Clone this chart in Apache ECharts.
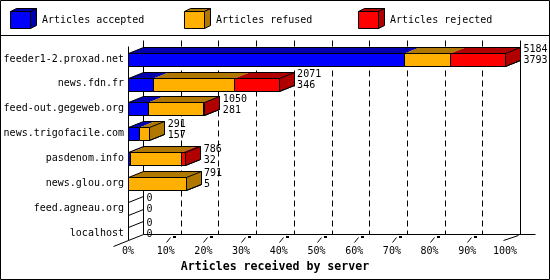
<!DOCTYPE html>
<html>
<head>
<meta charset="utf-8">
<script src="https://cdn.jsdelivr.net/npm/echarts@6/dist/echarts.min.js"></script>
<style>html,body{margin:0;padding:0;background:#fff}#c{width:550px;height:280px}</style>
</head>
<body>
<div id="c"></div>
<script>
const categories = ['feeder1-2.proxad.net','news.fdn.fr','feed-out.gegeweb.org','news.trigofacile.com','pasdenom.info','news.glou.org','feed.agneau.org','localhost'];
const accepted = [3793, 346, 281, 157, 32, 5, 0, 0];
const refused  = [639, 1112, 752, 134, 703, 786, 0, 0];
const rejected = [752, 613, 17, 0, 51, 0, 0, 0];
const seriesNames = ['Articles accepted','Articles refused','Articles rejected'];
const frontColors = ['#0000ff','#ffb000','#ff0000'];
const darkColors  = ['#0000b0','#b07800','#b00000'];
const axisTitle = 'Articles received by server';

const MONO = '"DejaVu Sans Mono", "Liberation Mono", monospace';
const DX = 15, DY = 6;
const totals = accepted.map((a,i)=>a+refused[i]+rejected[i]);
const maxTotal = Math.max(...totals);
const pct = v => v / maxTotal * 100;
const snap = v => Math.round(v) + 0.5;

const layers = [accepted, refused, rejected];
function segData(k){
  return categories.map((c,i)=>{
    let s = 0; for (let j=0;j<k;j++) s += layers[j][i];
    const e = s + layers[k][i];
    let lastK = -1; for (let j=0;j<3;j++) if (layers[j][i] > 0) lastK = j;
    return [i, pct(s), pct(e), lastK === k ? 1 : 0];
  });
}
function barBox(api, i){
  const cy = api.coord([0, i])[1];
  return {t: snap(cy - 6.3), b: snap(cy + 6.7), cy: cy};
}
function segRender(k){
  return function(params, api){
    const i = api.value(0), s = api.value(1), e = api.value(2), last = api.value(3);
    if (e - s <= 0) return null;
    const {t, b} = barBox(api, i);
    const x0 = snap(api.coord([s, i])[0]), x1 = snap(api.coord([e, i])[0]);
    const ch = [];
    ch.push({type:'polygon', shape:{points:[[x0,t],[x1,t],[x1+DX,t-DY],[x0+DX,t-DY]]}, style:{fill:darkColors[k], stroke:null}});
    if (last) ch.push({type:'polygon', shape:{points:[[x1,t],[x1+DX,t-DY],[x1+DX,b-DY],[x1,b]]}, style:{fill:darkColors[k], stroke:'#000', lineWidth:1}});
    ch.push({type:'polygon', shape:{points:[[x0,t],[x1,t],[x1,b],[x0,b]]}, style:{fill:frontColors[k], stroke:'#000', lineWidth:1}});
    return {type:'group', children:ch};
  };
}
function outlineRender(params, api){
  const i = api.value(0), tot = api.value(1), acc = api.value(2), count = api.value(3);
  const {t, b, cy} = barBox(api, i);
  const x0 = snap(api.coord([0, i])[0]);
  const xe = snap(api.coord([tot, i])[0]);
  const ch = [];
  if (tot > 0) {
    ch.push({type:'polyline', shape:{points:[[x0,t],[x0+DX,t-DY],[xe+DX,t-DY],[xe+DX,b-DY],[xe,b]]}, style:{fill:null, stroke:'#000', lineWidth:1}});
  } else {
    ch.push({type:'line', shape:{x1:x0,y1:t,x2:x0+DX,y2:t-DY}, style:{stroke:'#000', lineWidth:1}});
    ch.push({type:'line', shape:{x1:x0,y1:b,x2:x0+DX,y2:b-DY}, style:{stroke:'#000', lineWidth:1}});
  }
  const lx = api.coord([tot, i])[0] + 18.5;
  ch.push({type:'text', style:{x:lx, y:cy-9.5, text:String(count), font:'10px '+MONO, fill:'#000', align:'left', verticalAlign:'middle'}});
  ch.push({type:'text', style:{x:lx, y:cy+1.5, text:String(acc), font:'10px '+MONO, fill:'#000', align:'left', verticalAlign:'middle'}});
  return {type:'group', children:ch};
}
function frameRender(params, api){
  const n = categories.length;
  const ft = Math.round(api.coord([0,0])[1] - 13) + 0.5;
  const fb = Math.round(api.coord([0,n-1])[1] + 7) + 0.5;
  const xl = snap(api.coord([0,0])[0]), xr = snap(api.coord([100,0])[0]);
  const bt = ft - DY, bb = fb - DY;
  const ch = [];
  for (let k=10;k<100;k+=10){
    const x = snap(api.coord([k,0])[0]) + DX;
    ch.push({type:'line', shape:{x1:x,y1:bt,x2:x,y2:bb}, style:{stroke:'#000', lineWidth:1, lineDash:[6,4]}});
    const xf = snap(api.coord([k,0])[0]);
    ch.push({type:'line', shape:{x1:xf,y1:fb+2,x2:xf+4,y2:fb-3}, style:{stroke:'#000', lineWidth:1}});
    ch.push({type:'rect', shape:{x:xf+6.5,y:fb-4.5,width:3,height:2}, style:{fill:'#000'}});
  }
  ch.push({type:'line', shape:{x1:xl,y1:ft,x2:xl,y2:fb}, style:{stroke:'#000', lineWidth:1}});
  ch.push({type:'line', shape:{x1:xl+DX,y1:bt,x2:xl+DX,y2:bb}, style:{stroke:'#000', lineWidth:1}});
  ch.push({type:'line', shape:{x1:xr+DX,y1:bt,x2:xr+DX,y2:bb}, style:{stroke:'#000', lineWidth:1}});
  ch.push({type:'line', shape:{x1:xl+DX,y1:bb,x2:xr+DX+15,y2:bb}, style:{stroke:'#000', lineWidth:1}});
  ch.push({type:'line', shape:{x1:xl-15,y1:fb+6,x2:xl,y2:fb}, style:{stroke:'#000', lineWidth:1}});
  ch.push({type:'line', shape:{x1:xr-2,y1:fb,x2:xr+DX-2,y2:bb+1}, style:{stroke:'#000', lineWidth:1}});
  return {type:'group', children:ch};
}

const legendX = [10, 184, 358];
const graphics = [
  {type:'rect', shape:{x:0.5,y:0.5,width:549,height:279}, style:{fill:null, stroke:'#000', lineWidth:1}, z:100},
  {type:'line', shape:{x1:0,y1:35.5,x2:550,y2:35.5}, style:{stroke:'#000', lineWidth:1}, z:100},
  {type:'text', style:{x:275, y:267, text:axisTitle, font:'bold 11.6px '+MONO, fill:'#000', align:'center', verticalAlign:'middle'}, z:100}
];
seriesNames.forEach((nm,k)=>{
  const x = legendX[k] + 0.5, y = 11.5, w = 20, h = 17, dx = 6, dy = 3;
  graphics.push({type:'polygon', shape:{points:[[x,y],[x+w,y],[x+w+dx,y-dy],[x+dx,y-dy]]}, style:{fill:darkColors[k], stroke:'#000', lineWidth:1}, z:100});
  graphics.push({type:'polygon', shape:{points:[[x+w,y],[x+w+dx,y-dy],[x+w+dx,y+h-dy],[x+w,y+h]]}, style:{fill:darkColors[k], stroke:'#000', lineWidth:1}, z:100});
  graphics.push({type:'rect', shape:{x:x,y:y,width:w,height:h}, style:{fill:frontColors[k], stroke:'#000', lineWidth:1}, z:100});
  graphics.push({type:'text', style:{x:legendX[k]+32, y:20, text:nm, font:'10px '+MONO, fill:'#000', align:'left', verticalAlign:'middle'}, z:100});
});

const chart = echarts.init(document.getElementById('c'), null, {renderer:'canvas'});
chart.setOption({
  animation:false,
  backgroundColor:'#fff',
  grid:{left:128, top:46.5, width:377, height:199},
  xAxis:{type:'value', min:0, max:100, interval:10, axisLine:{show:false}, axisTick:{show:false}, splitLine:{show:false},
    axisLabel:{formatter:'{value}%', margin:1, color:'#000', fontFamily:MONO, fontSize:10}},
  yAxis:{type:'category', inverse:true, data:categories, axisLine:{show:false}, axisTick:{show:false}, splitLine:{show:false},
    axisLabel:{margin:4, color:'#000', fontFamily:MONO, fontSize:10}},
  graphic:graphics,
  series:[
    {type:'custom', name:'frame', z:1, renderItem:frameRender, data:[[0,0]], encode:{x:0,y:1}, silent:true},
    ...[0,1,2].map(k=>({type:'custom', name:seriesNames[k], z:2, renderItem:segRender(k), data:segData(k), encode:{x:[1,2], y:0}})),
    {type:'custom', name:'outline', z:3, renderItem:outlineRender,
      data:categories.map((c,i)=>[i, pct(totals[i]), accepted[i], totals[i]]), encode:{x:1, y:0}}
  ]
});
</script>
</body>
</html>
